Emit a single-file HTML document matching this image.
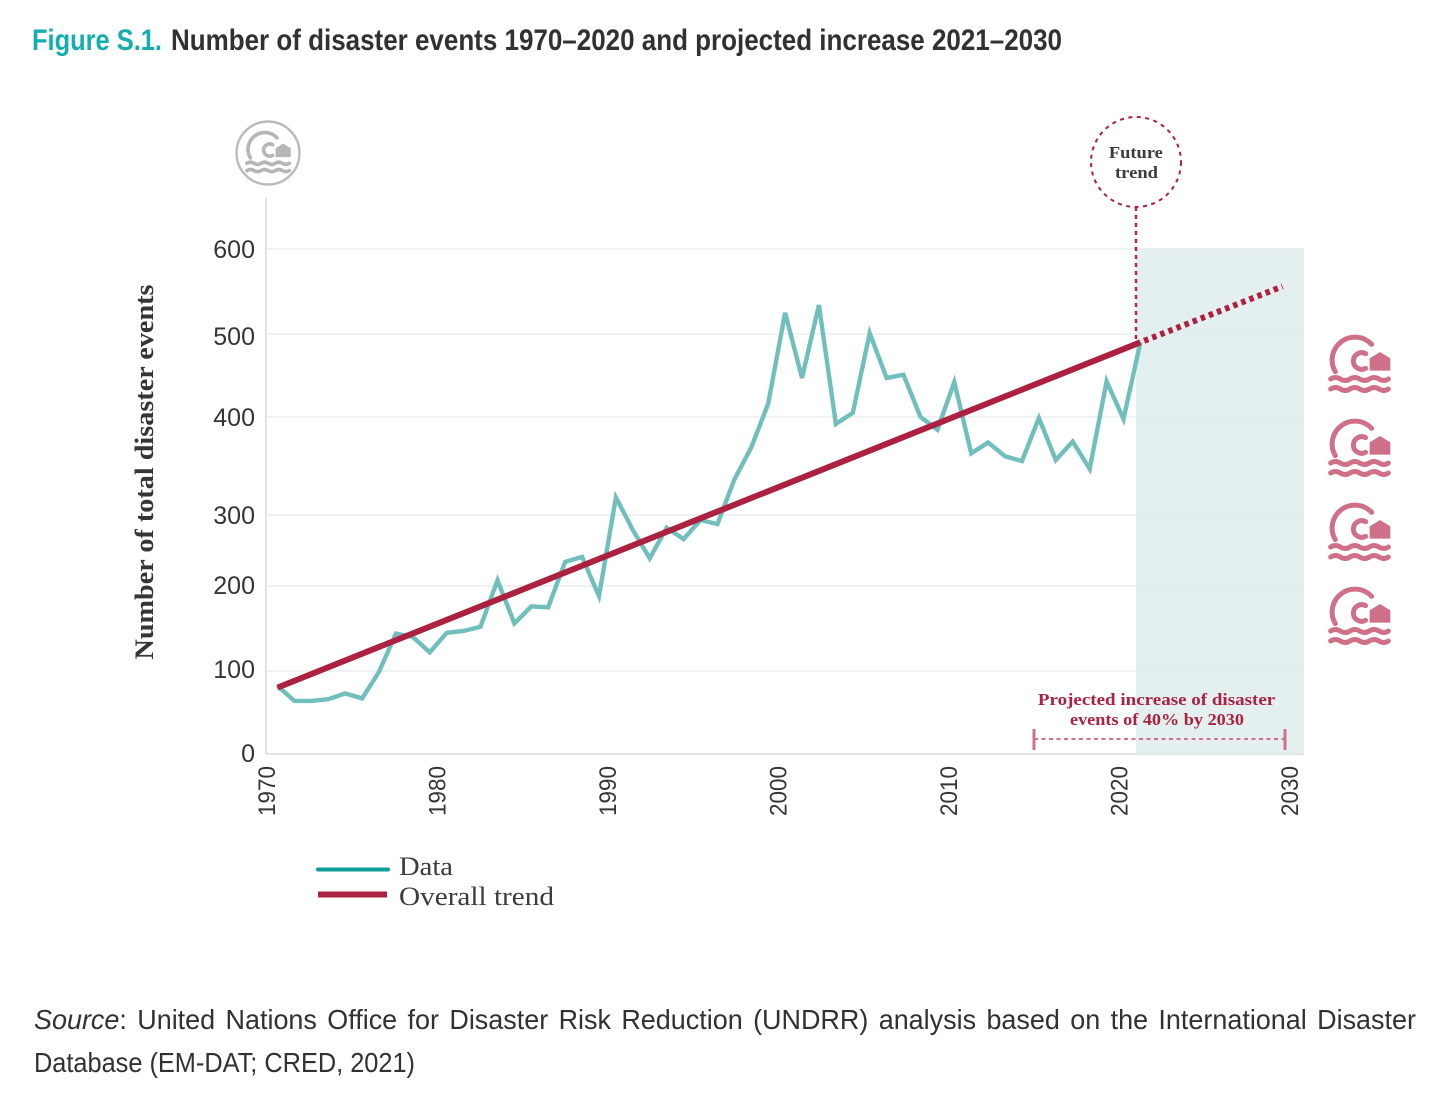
<!DOCTYPE html>
<html lang="en">
<head>
<meta charset="utf-8">
<title>Figure S.1</title>
<style>
html,body{margin:0;padding:0;background:#fff;}
svg{display:block;}
.sans{font-family:"Liberation Sans",sans-serif;}
.serif{font-family:"Liberation Serif","DejaVu Serif",serif;}
</style>
</head>
<body>
<svg id="chart" xmlns="http://www.w3.org/2000/svg" width="1456" height="1114" viewBox="0 0 1456 1114">
  <defs>
    <symbol id="flood-icon" viewBox="0 0 240 270" overflow="visible">
      <g fill="none" stroke="currentColor" stroke-width="15" stroke-linecap="round">
        <path d="M155 73 A68.6 68.6 0 0 0 46 155"/>
        <path d="M137 101 A25 25 0 1 0 137 145"/>
        <path d="M32 177 Q46 168 61 177 T90 177 T119 177 T148 177 T177 177 T205 177"/>
        <path d="M32 207 Q46 198 61 207 T90 207 T119 207 T148 207 T177 207 T205 207"/>
      </g>
      <polygon points="149,115 180,96 211,115 211,152 149,152" fill="currentColor"/>
    </symbol>
  </defs>

  <text class="sans" y="50" font-size="30" font-weight="700">
    <tspan x="32" fill="#14aeae" textLength="130" lengthAdjust="spacingAndGlyphs">Figure S.1.</tspan>
    <tspan x="171" fill="#2f3233" textLength="891" lengthAdjust="spacingAndGlyphs">Number of disaster events 1970–2020 and projected increase 2021–2030</tspan>
  </text>

  <g>
    <circle cx="268" cy="153" r="31.5" fill="none" stroke="#b9bbbb" stroke-width="2.4"/>
    <use href="#flood-icon" x="239" y="120" width="59" height="66" color="#b5b7b7"/>
  </g>

  <rect x="1136" y="249" width="168" height="505" fill="#e4f0f0"/>
  <g id="grid"></g>
  <line x1="266" y1="198" x2="266" y2="754" stroke="#e2e4e4" stroke-width="2"/>
  <line x1="266" y1="754" x2="1304" y2="754" stroke="#e2e6e6" stroke-width="2"/>
  <g id="y-labels"></g>
  <g id="x-labels"></g>

  <text class="serif" transform="translate(153,472) rotate(-90)" text-anchor="middle" font-size="26" font-weight="700" fill="#333638" textLength="375" lengthAdjust="spacingAndGlyphs">Number of total disaster events</text>

  <g id="series"></g>

  <g>
    <circle cx="1136" cy="162" r="45" fill="#fff" stroke="#ad2140" stroke-width="2" stroke-dasharray="4 4.5"/>
    <line x1="1136" y1="207" x2="1136" y2="342" stroke="#ad2140" stroke-width="2.4" stroke-dasharray="4 4"/>
    <text class="serif" font-size="17" font-weight="700" fill="#3a3c3e" text-anchor="middle">
      <tspan x="1138" y="158" textLength="54" lengthAdjust="spacingAndGlyphs">Future</tspan>
      <tspan x="1136.5" y="178" textLength="43" lengthAdjust="spacingAndGlyphs">trend</tspan>
    </text>
  </g>

  <g>
    <text class="serif" font-size="17" font-weight="700" fill="#ad2140" text-anchor="middle">
      <tspan x="1158.5" y="705" textLength="237" lengthAdjust="spacingAndGlyphs">Projected increase of disaster</tspan>
      <tspan x="1157" y="725" textLength="174" lengthAdjust="spacingAndGlyphs">events of 40% by 2030</tspan>
    </text>
    <line x1="1034" y1="739" x2="1285" y2="739" stroke="#d0708a" stroke-width="2" stroke-dasharray="4 3.5"/>
    <line x1="1034" y1="729" x2="1034" y2="750" stroke="#d0708a" stroke-width="3"/>
    <line x1="1285" y1="729" x2="1285" y2="750" stroke="#d0708a" stroke-width="3"/>
  </g>

  <g color="#cf7088">
    <use href="#flood-icon" x="1320" y="320" width="80" height="90"/>
    <use href="#flood-icon" x="1320" y="404" width="80" height="90"/>
    <use href="#flood-icon" x="1320" y="488" width="80" height="90"/>
    <use href="#flood-icon" x="1320" y="572" width="80" height="90"/>
  </g>

  <g>
    <g>
      <line x1="318" y1="869.5" x2="388" y2="869.5" stroke="#0e9e9a" stroke-width="4" stroke-linecap="round"/>
      <text class="serif" x="399" y="875" font-size="26" fill="#3a3c3e" textLength="54" lengthAdjust="spacingAndGlyphs">Data</text>
    </g>
    <g>
      <line x1="318" y1="894.5" x2="387" y2="894.5" stroke="#ad2140" stroke-width="6"/>
      <text class="serif" x="399" y="905" font-size="26" fill="#3a3c3e" textLength="155" lengthAdjust="spacingAndGlyphs">Overall trend</text>
    </g>
  </g>

  <text class="sans" font-size="28" fill="#2f3233">
    <tspan x="34" y="1029" word-spacing="3" textLength="1382" lengthAdjust="spacingAndGlyphs"><tspan font-style="italic">Source</tspan>: United Nations Office for Disaster Risk Reduction (UNDRR) analysis based on the International Disaster</tspan>
    <tspan x="34" y="1072" textLength="381" lengthAdjust="spacingAndGlyphs">Database (EM-DAT; CRED, 2021)</tspan>
  </text>
</svg>

<script>
const yTicks = [0, 100, 200, 300, 400, 500, 600];
const xTicks = [1970, 1980, 1990, 2000, 2010, 2020, 2030];
const years = [1970, 1971, 1972, 1973, 1974, 1975, 1976, 1977, 1978, 1979, 1980, 1981, 1982, 1983, 1984, 1985, 1986, 1987, 1988, 1989, 1990, 1991, 1992, 1993, 1994, 1995, 1996, 1997, 1998, 1999, 2000, 2001, 2002, 2003, 2004, 2005, 2006, 2007, 2008, 2009, 2010, 2011, 2012, 2013, 2014, 2015, 2016, 2017, 2018, 2019, 2020, 2021];
const events = [82, 64, 64, 66, 73, 67, 99, 144, 140, 122, 145, 147, 152, 208, 156, 176, 175, 234, 241, 188, 318, 279, 239, 282, 266, 293, 287, 336, 369, 416, 525, 447, 534, 393, 405, 501, 447, 451, 400, 387, 442, 363, 374, 360, 355, 399, 356, 375, 347, 443, 398, 490];
const trendYears = [1970, 2021];
const trendValues = [80, 490];
const projectionYears = [2021, 2029.4];
const projectionValues = [490, 556];

const svgNS = 'http://www.w3.org/2000/svg';

function yScale(value) {
  // The printed axis is not evenly spaced; each tick has its own pixel row.
  const rows = [754, 671, 586, 515, 417, 334, 249];
  const last = yTicks.length - 1;
  let i = 0;
  while (i < last - 1 && value > yTicks[i + 1]) i++;
  const t = (value - yTicks[i]) / (yTicks[i + 1] - yTicks[i]);
  return rows[i] + t * (rows[i + 1] - rows[i]);
}
function yLabelRow(tickIndex) {
  // Printed labels sit slightly off their gridlines in the source figure.
  const nudge = [-1, -2, -1, 0, 0, 2, 0];
  return yScale(yTicks[tickIndex]) + nudge[tickIndex] + 9;
}
function tickX(year) {
  return 266 + (year - 1970) * 17.05;
}
function dataX(year) {
  return 277.5 + (year - 1970) * 16.92;
}
function make(tag, attrs, parent) {
  const el = document.createElementNS(svgNS, tag);
  for (const k in attrs) el.setAttribute(k, attrs[k]);
  parent.appendChild(el);
  return el;
}
function pointString(xs, ys) {
  return xs.map((year, i) => dataX(year).toFixed(1) + ',' + yScale(ys[i]).toFixed(1)).join(' ');
}

const grid = document.getElementById('grid');
const yLabels = document.getElementById('y-labels');
yTicks.forEach((tick, index) => {
  if (tick > 0) {
    const line = make('line', {x1: 266, x2: 1304, y1: yScale(tick), y2: yScale(tick), stroke: '#e3ebeb', 'stroke-width': 1.2}, grid);
    
    
  }
  const label = make('text', {x: 255, y: yLabelRow(index), 'text-anchor': 'end', 'font-size': 25, fill: '#333638', class: 'sans'}, yLabels);
  
  
  label.textContent = tick;
});

const xLabels = document.getElementById('x-labels');
xTicks.forEach((tick) => {
  const label = make('text', {transform: 'translate(' + (tickX(tick) + 9) + ',766) rotate(-90)', 'text-anchor': 'end', 'font-size': 24, fill: '#333638', class: 'sans', textLength: 50, lengthAdjust: 'spacingAndGlyphs'}, xLabels);
  
  
  label.textContent = tick;
});

const series = document.getElementById('series');
const dataLine = make('polyline', {points: pointString(years, events), fill: 'none', stroke: '#70bfbd', 'stroke-width': 4.4, 'stroke-linejoin': 'miter'}, series);



const trendLine = make('polyline', {points: pointString(trendYears, trendValues), fill: 'none', stroke: '#ad2140', 'stroke-width': 6}, series);



const projectionLine = make('polyline', {points: pointString(projectionYears, projectionValues), fill: 'none', stroke: '#ad2140', 'stroke-width': 6, 'stroke-dasharray': '4.5 4.2', 'stroke-dashoffset': -4}, series);


</script>
</body>
</html>
